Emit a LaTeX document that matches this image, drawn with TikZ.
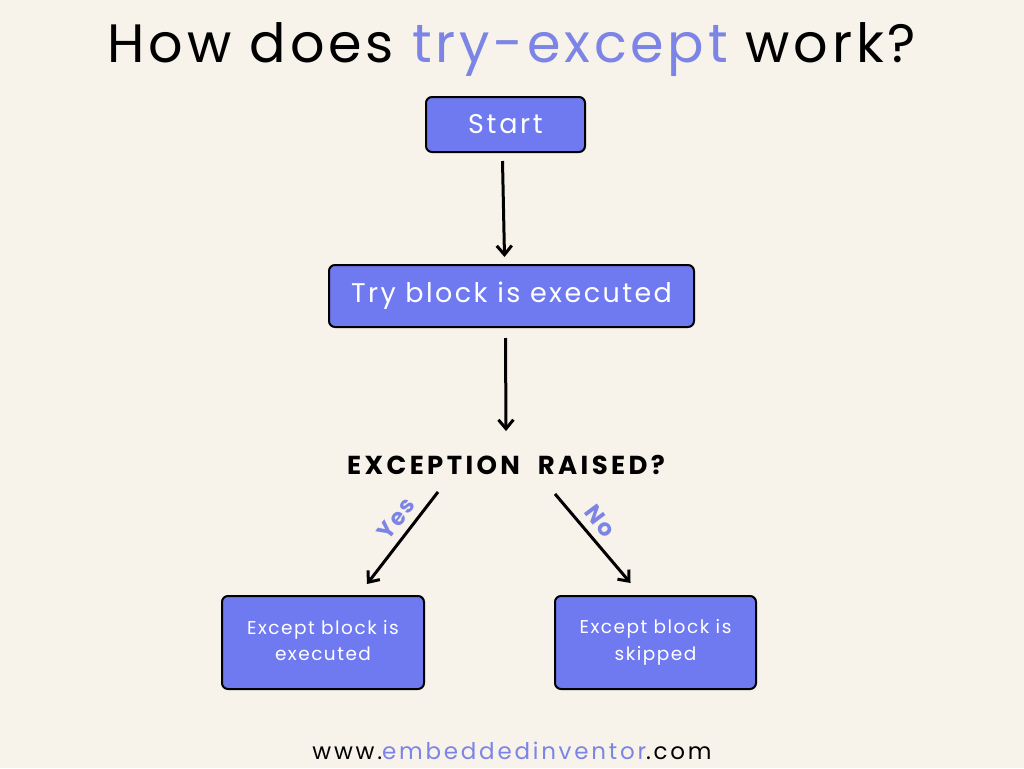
\documentclass[tikz,border=0pt]{standalone}
\usepackage{fontspec}
\setmainfont{Poppins}
\usepackage{xcolor}
\usepackage{tikz}
\usetikzlibrary{arrows.meta, positioning, calc}

\definecolor{paper}{HTML}{F8F3EA}
\definecolor{boxblue}{HTML}{6F79F0}
\definecolor{accent}{HTML}{7C84E6}

\newcommand{\spacedfont}[2]{\fontsize{#1}{#1}\selectfont\addfontfeature{LetterSpace=#2}}

\begin{document}
\begin{tikzpicture}[x=1pt, y=-1pt,
  flowbox/.style={draw=black, fill=boxblue, rounded corners=6pt, line width=2pt, text=white, align=center, inner sep=0pt},
  flowarrow/.style={draw=black, line width=3pt, -{Straight Barb[length=9pt, width=15pt]}},
  branchlabel/.style={text=accent, font=\bfseries\spacedfont{23}{8}, anchor=south, inner sep=7pt}
]

% --- background and frame ---
\fill[paper] (0,0) rectangle (1024,768);
\useasboundingbox (0,0) rectangle (1024,768);

% --- title ---
\node (title) at (512,50) {\spacedfont{54}{7}How does \textcolor{accent}{try-except} work?};

% --- flow boxes ---
\node[flowbox, minimum width=159pt, minimum height=55pt, font=\spacedfont{27}{10}] (start) at (505.5,124.5) {Start};
\node[flowbox, minimum width=365pt, minimum height=62pt, font=\spacedfont{27}{9}] (try) at (511.5,296) {Try block is executed};
\node[font=\bfseries\spacedfont{26}{13}, inner sep=0pt] (raised) at (506,465) {EXCEPTION\hspace{9pt} RAISED?};
\node[flowbox, minimum width=202pt, minimum height=93pt, font=\spacedfont{18.5}{8}] (exc) at (323,642.5) {Except block is\\[7.5pt]executed\vphantom{p}};
\node[flowbox, minimum width=201pt, minimum height=93pt, font=\spacedfont{18.5}{8}] (skip) at (655.5,642.5) {Except block is\\[7.5pt]skipped};

% --- footer ---
\node (site) at (512,751) {\spacedfont{23}{12}www.\textcolor{accent}{embeddedinventor}.com};

% --- connectors ---
\draw[flowarrow] ($(start.south)+(-3,8)$) -- ($(try.north)+(-7,-7)$);
\draw[flowarrow] ($(try.south)+(-6,10)$) -- ($(raised.north)+(0,-24)$);
\draw[flowarrow] ($(raised.south)+(-68,17)$) -- ($(exc.north)+(44,-11)$) node[pos=0.4, branchlabel, rotate=53] {Yes};
\draw[flowarrow] ($(raised.south)+(49,19)$) -- ($(skip.north)+(-25,-12)$) node[pos=0.42, branchlabel, rotate=-53] {No};

\end{tikzpicture}
\end{document}
